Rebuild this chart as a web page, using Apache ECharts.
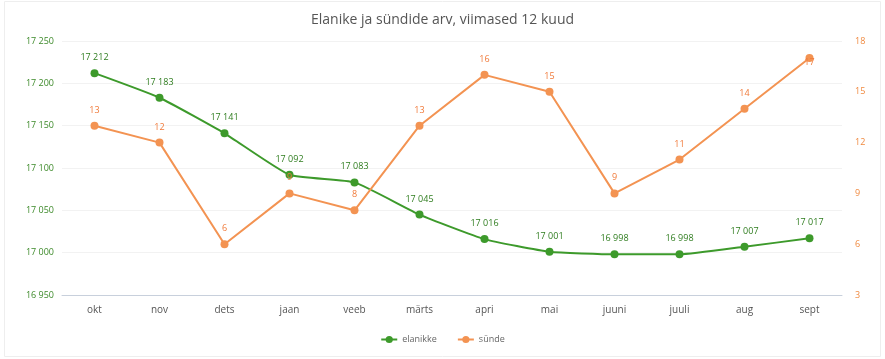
<!DOCTYPE html>
<html><head><meta charset="utf-8">
<script src="https://cdn.jsdelivr.net/npm/echarts@6/dist/echarts.min.js"></script>
<style>html,body{margin:0;padding:0;background:#fff}#c{width:885px;height:359px}</style>
</head><body><div id="c"></div>
<script>
const categories = ['okt','nov','dets','jaan','veeb','märts','apri','mai','juuni','juuli','aug','sept'];
const elanikke = [17212,17183,17141,17092,17083,17045,17016,17001,16998,16998,17007,17017];
const synde = [13,12,6,9,8,13,16,15,9,11,14,17];
const leftTicks = {min:16950,max:17250,interval:50};
const rightTicks = {min:3,max:18,interval:3};

const green = '#3d9a2b', orange = '#f39352';
const fmt = v => { const s = String(v); return s.length>3 ? s.slice(0,s.length-3)+' '+s.slice(-3) : s; };
const font = '"Open Sans", "Noto Sans", sans-serif';

const chart = echarts.init(document.getElementById('c'), null, {renderer:'canvas'});
chart.setOption({
  animation:false,
  textStyle:{fontFamily:font},
  title:{text:'Elanike ja sündide arv, viimased 12 kuud',left:'center',top:8,
    textStyle:{fontSize:14,fontWeight:'normal',color:'#555',fontFamily:font}},
  graphic:[{type:'rect',shape:{x:4.5,y:1.5,width:876,height:355},style:{fill:'none',stroke:'#eeeeee',lineWidth:1},silent:true}],
  legend:{bottom:10,left:'center',itemWidth:16,itemHeight:9,itemGap:20,
    textStyle:{fontSize:9,color:'#666',fontFamily:font},
    data:['elanikke','sünde']},
  grid:{left:62,right:43,top:41,bottom:64},
  xAxis:{type:'category',data:categories,boundaryGap:true,
    axisLine:{lineStyle:{color:'#c8d0dc'}},axisTick:{show:false},
    axisLabel:{color:'#555',fontSize:10,margin:10,fontFamily:font}},
  yAxis:[
    {type:'value',min:leftTicks.min,max:leftTicks.max,interval:leftTicks.interval,
     axisLabel:{color:'#3d8a2a',fontSize:9,formatter:fmt,margin:8,fontFamily:font},
     splitLine:{lineStyle:{color:'#f2f2f2'}},axisLine:{show:false},axisTick:{show:false}},
    {type:'value',min:rightTicks.min,max:rightTicks.max,interval:rightTicks.interval,position:'right',
     axisLabel:{color:'#f08a40',fontSize:9,margin:13,fontFamily:font},
     splitLine:{show:false},axisLine:{show:false},axisTick:{show:false}}
  ],
  series:[
    {name:'elanikke',type:'line',yAxisIndex:0,data:elanikke,smooth:0.15,
     symbol:'circle',symbolSize:8,itemStyle:{color:green},lineStyle:{width:2,color:green},
     label:{show:true,position:'top',distance:7,fontSize:9,color:'#2f7d1f',formatter:p=>fmt(p.value),fontFamily:font}},
    {name:'sünde',type:'line',yAxisIndex:1,data:synde.map((v,i)=> i===synde.length-1 ? {value:v,label:{position:'inside',offset:[0,5]}} : v),
     symbol:'circle',symbolSize:8,itemStyle:{color:orange},lineStyle:{width:2,color:orange},
     label:{show:true,position:'top',distance:7,fontSize:9,color:'#f07a3a',fontFamily:font}}
  ]
});
</script></body></html>
